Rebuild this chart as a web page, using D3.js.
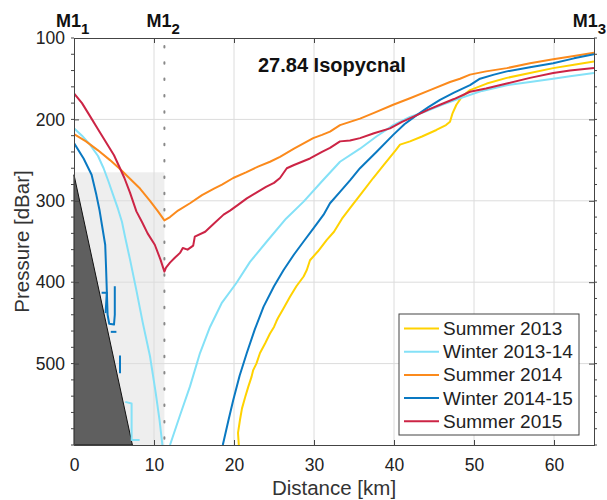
<!DOCTYPE html>
<html>
<head>
<meta charset="utf-8">
<script src="https://cdn.jsdelivr.net/npm/d3@7"></script>
<style>
  body { margin: 0; background: #fff; }
  text { font-family: "Liberation Sans", Arial, Helvetica, sans-serif; }
</style>
</head>
<body>
<div id="chart"></div>
<script>
// ---- data (distance km, pressure dBar) ----
const xTicks = [0, 10, 20, 30, 40, 50, 60];
const yTicks = [100, 200, 300, 400, 500];
const stations = [
  { name: "M1", sub: "1", km: 0 },
  { name: "M1", sub: "2", km: 11.3 },
  { name: "M1", sub: "3", km: 65 }
];
const legendNames = ["Summer 2013", "Winter 2013-14", "Summer 2014", "Winter 2014-15", "Summer 2015"];
const colors = ["#ffd200", "#84e1f7", "#fb8a1c", "#0a79c2", "#cc2445"];

const summer2013 = [[20.6,600],[20.5,585],[20.75,569],[21,555],[21.4,541],[21.8,528],[22.2,516],[22.4,508],[22.8,500],[23.25,487],[23.9,475],[24.5,463],[25,455],[25.3,448],[25.5,444],[26.2,432],[27,418],[27.8,405],[28.7,393],[29.1,385],[29.5,373],[30.5,362],[31.6,348],[32.5,338],[33.5,322],[34.5,309],[36,290],[37.4,272],[38.8,255],[40.2,238],[40.75,231],[42,227],[43.5,221],[45.3,213],[46.5,207],[47,203],[47.3,193],[47.8,182],[48.5,172],[49.5,164],[51.6,156],[54.1,149],[57,143],[59.9,137],[62.5,133],[65,129]];
const winter1314a = [[0,211],[1,220],[2,231],[3,245],[3.7,260],[4.3,276],[4.9,293],[5.5,310],[6,326],[6.4,345],[7,372],[7.8,410],[8.6,450],[9.5,491],[10.2,535],[10.7,570],[11.05,600]];
const winter1314b = [[12,600],[13.2,565],[14.5,528],[15.75,487],[17,455],[18.5,425],[20.3,401],[22,375],[24.1,350],[26.5,322],[28.7,301],[31,276],[33.25,252],[35.75,236],[37.8,221],[39.9,207],[42,197],[44,190],[46,182],[48.25,174],[51,165],[54.1,158],[57,154],[59.9,150],[62,147],[65,143]];
const winter1314c = [[6.4,547],[7.2,549],[7.2,594],[8.2,594]];
const summer2014 = [[0,218],[1.5,227],[3,238],[4.5,250],[5.75,261],[7,273],[8.25,285],[9.5,300],[10.5,313],[11.3,324],[12,320],[13,312],[14.5,303],[16,293],[17.5,285],[18.5,280],[19.9,272],[21.5,265],[23,258],[24.5,252],[25.75,246],[27.5,236],[29.9,223],[31,219],[32,215],[33.25,207],[35.75,199],[37.5,192],[39.9,182],[42,174],[44.5,164],[47,154],[48.25,150],[49.5,145],[51.5,141],[54.1,137],[57,131],[59.9,126],[62.5,122],[65,118]];
const winter1415a = [[0,229],[1.2,248],[2.2,268],[2.8,293],[3.2,312],[3.5,330],[3.9,354],[4.0,380],[4.1,410],[4.2,440],[4.4,451],[5.0,452],[5.1,440],[5.1,405]];
const winter1415b = [[3.45,413],[4.1,413],[3.95,438]];
const winter1415c = [[4.6,461],[5.3,461]];
const winter1415d = [[5.75,490],[5.75,512]];
const winter1415e = [[18.6,600],[19.3,570],[19.9,545],[20.7,515],[21.6,487],[22.6,458],[23.7,430],[25,405],[26.2,385],[27.5,366],[28.7,350],[30,333],[31.2,317],[32,303],[33.25,289],[34.5,275],[35.75,260],[37.8,240],[39.9,219],[41.3,206],[42.8,195],[44.3,185],[45.75,176],[47.5,167],[49.5,158],[50.75,150],[52.5,145],[54.1,141],[57,136],[59.9,131],[62.5,125],[65,120]];
const summer2015 = [[0,168],[1,180],[2,196],[3,212],[4,228],[5,244],[5.75,260],[6.3,272],[7,290],[7.8,313],[8.5,326],[9.2,340],[10.1,354],[10.8,372],[11.3,387],[11.5,382],[12,376],[12.6,370],[13.25,364],[13.6,358],[14.2,360],[14.9,355],[15.1,344],[16.4,338],[17.5,328],[18.7,317],[19.5,312],[20.5,305],[21.6,297],[22.8,290],[24,283],[25,278],[25.75,272],[26.6,260],[27.5,256],[29.5,248],[31,240],[32,235],[33.25,227],[34.5,226],[35.75,223],[37.5,217],[39.5,211],[41,203],[42.8,195],[44.3,188],[45.75,182],[47.5,175],[49.5,166],[51.5,162],[54.1,156],[57,149],[59.9,143],[62,140],[65,137]];

const series = [
  { idx: 0, parts: [summer2013] },
  { idx: 1, parts: [winter1314a, winter1314b, winter1314c] },
  { idx: 2, parts: [summer2014] },
  { idx: 3, parts: [winter1415a, winter1415b, winter1415c, winter1415d, winter1415e] },
  { idx: 4, parts: [summer2015] }
];

const shelfBox = [[0, 265], [11.3, 600]];
const bottomWedge = [[0, 268], [7.3, 600], [0, 600]];

// ---- layout ----
const width = 607, height = 500;
const marge = { top: 38, left: 74, right: 13, bottom: 55 };
const w = width - marge.left - marge.right;
const h = height - marge.top - marge.bottom;

const svg = d3.select("#chart").append("svg").attr("width", width).attr("height", height);
const g = svg.append("g").attr("transform", `translate(${marge.left},${marge.top})`);

const x = d3.scaleLinear().domain([0, 65]).range([0, w]);
const y = d3.scaleLinear().domain([100, 600]).range([0, h]);

svg.append("defs").append("clipPath").attr("id", "clip")
  .append("rect").attr("width", w).attr("height", h);

// shelf shading
g.append("rect")
  .attr("x", x(shelfBox[0][0])).attr("y", y(shelfBox[0][1]))
  .attr("width", x(shelfBox[1][0]) - x(shelfBox[0][0]))
  .attr("height", y(shelfBox[1][1]) - y(shelfBox[0][1]))
  .attr("fill", "#eeeeee");

// grid
g.append("g").selectAll("line").data(xTicks.slice(1)).join("line")
  .attr("x1", d => x(d)).attr("x2", d => x(d)).attr("y1", 0).attr("y2", h)
  .attr("stroke", "#dcdcdc").attr("stroke-width", 1);
g.append("g").selectAll("line").data(yTicks.slice(1)).join("line")
  .attr("x1", 0).attr("x2", w).attr("y1", d => y(d)).attr("y2", d => y(d))
  .attr("stroke", "#dcdcdc").attr("stroke-width", 1);

// bathymetry wedge
g.append("path")
  .attr("d", d3.line().x(d => x(d[0])).y(d => y(d[1]))(bottomWedge) + "Z")
  .attr("fill", "#5f5f5f").attr("stroke", "#111").attr("stroke-width", 1);

// dotted station line
g.append("line")
  .attr("x1", x(stations[1].km)).attr("x2", x(stations[1].km))
  .attr("y1", 8).attr("y2", h)
  .attr("stroke", "#888").attr("stroke-width", 2)
  .attr("stroke-dasharray", "1.5,14.8").attr("stroke-linecap", "round");

// lines
const line = d3.line().x(d => x(d[0])).y(d => y(d[1]));
const lines = g.append("g").attr("clip-path", "url(#clip)");
series.forEach(s => {
  s.parts.forEach(p => {
    lines.append("path").attr("d", line(p))
      .attr("fill", "none").attr("stroke", colors[s.idx])
      .attr("stroke-width", 2).attr("stroke-linejoin", "round");
  });
});

// axes (ticks inward, box)
const axisColor = "#444";
const xb = g.append("g").attr("transform", `translate(0,${h})`)
  .call(d3.axisBottom(x).tickValues(xTicks).tickSize(-5).tickPadding(14).tickFormat(d3.format("d")));
const xt = g.append("g")
  .call(d3.axisTop(x).tickValues(xTicks).tickSize(-5).tickFormat(""));
const minor = d3.range(100, 601, 20);
const yl = g.append("g")
  .call(d3.axisLeft(y).tickValues(yTicks).tickSize(-5).tickPadding(9).tickFormat(d3.format("d")));
const yr = g.append("g").attr("transform", `translate(${w},0)`)
  .call(d3.axisRight(y).tickValues(yTicks).tickSize(-5).tickFormat(""));
[xb, xt, yl, yr].forEach(a => {
  a.select(".domain").attr("stroke", axisColor);
  a.selectAll(".tick line").attr("stroke", axisColor);
  a.selectAll(".tick text").attr("fill", "#222").style("font-size", "17.5px")
    .style("font-family", "'Liberation Sans', Arial, sans-serif");
});
[[0, -3], [w, 3]].forEach(([xx, dx]) => {
  g.append("g").selectAll("line").data(minor).join("line")
    .attr("x1", xx).attr("x2", xx + dx).attr("y1", d => y(d)).attr("y2", d => y(d))
    .attr("stroke", axisColor);
});

// title
g.append("text").attr("x", x(23)).attr("y", 34)
  .attr("font-size", 20).attr("font-weight", "bold").attr("fill", "#111")
  .text("27.84 Isopycnal");

// station labels (last one kept inside the page edge)
stations.forEach((st, i) => {
  const last = i === stations.length - 1;
  const t = svg.append("text")
    .attr("x", last ? width - 1 : marge.left + x(st.km) - 18).attr("y", 27)
    .attr("text-anchor", last ? "end" : "start")
    .attr("font-size", 18).attr("font-weight", "bold").attr("fill", "#111");
  t.append("tspan").text(st.name);
  t.append("tspan").attr("dy", 7).attr("font-size", 15).text(st.sub);
});

// axis titles
svg.append("text").attr("x", marge.left + w / 2).attr("y", 495)
  .attr("text-anchor", "middle").attr("font-size", 20.5).attr("fill", "#333")
  .text("Distance [km]");
svg.append("text").attr("transform", `translate(29,${marge.top + h / 2}) rotate(-90)`)
  .attr("text-anchor", "middle").attr("font-size", 20.5).attr("fill", "#333")
  .text("Pressure [dBar]");

// legend
const lg = svg.append("g").attr("transform", "translate(399,314)");
lg.append("rect").attr("width", 180).attr("height", 121)
  .attr("fill", "#fff").attr("stroke", "#444").attr("stroke-width", 1);
legendNames.forEach((n, i) => {
  const yy = 14.5 + i * 23.2;
  lg.append("line").attr("x1", 5).attr("x2", 40).attr("y1", yy).attr("y2", yy)
    .attr("stroke", colors[i]).attr("stroke-width", 2);
  lg.append("text").attr("x", 44).attr("y", yy + 6.5)
    .attr("font-size", 19).attr("fill", "#222").text(n);
});
</script>
</body>
</html>
